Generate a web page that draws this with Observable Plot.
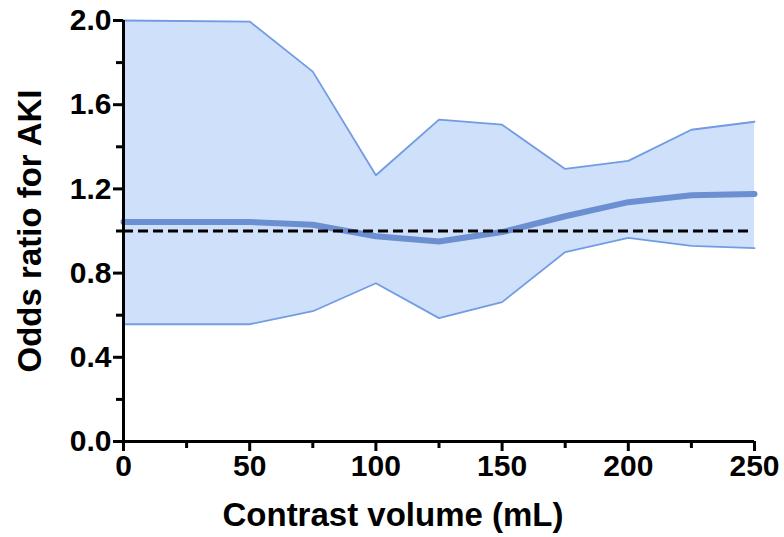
<!DOCTYPE html>
<html>
<head>
<meta charset="utf-8">
<script src="https://cdn.jsdelivr.net/npm/d3@7"></script>
<script src="https://cdn.jsdelivr.net/npm/@observablehq/plot@0.6"></script>
<style>
  html, body { margin: 0; padding: 0; background: #fff; }
  #chart svg { display: block; }
</style>
</head>
<body>
<div id="chart"></div>
<script>
// Data
const volume = [0, 50, 75, 100, 125, 150, 175, 200, 225, 250];
const oddsRatio = [1.043, 1.043, 1.03, 0.975, 0.95, 0.995, 1.07, 1.137, 1.17, 1.176];
const lowerCI = [0.557, 0.557, 0.619, 0.752, 0.586, 0.662, 0.90, 0.967, 0.929, 0.919];
const upperCI = [2.0, 1.995, 1.757, 1.265, 1.529, 1.505, 1.295, 1.333, 1.481, 1.519];
const referenceLine = [1];
const xMajorTicks = [0, 50, 100, 150, 200, 250];
const xMinorTicks = [25, 75, 125, 175, 225];
const yMajorTicks = [0, 0.4, 0.8, 1.2, 1.6, 2.0];
const yMinorTicks = [0.2, 0.6, 1.0, 1.4, 1.8];
const xTitle = "Contrast volume (mL)";
const yTitle = "Odds ratio for AKI";

const rows = volume.map((v, i) => ({v, or: oddsRatio[i], lo: lowerCI[i], hi: upperCI[i]}));

const font = "'Liberation Sans', Arial, Helvetica, sans-serif";
const fillColor = "#cfe0fb";
const edgeColor = "#719be2";
const mainColor = "#6b8fd1";

const chart = Plot.plot({
  width: 784,
  height: 537,
  marginLeft: 123,
  marginRight: 30,
  marginTop: 20,
  marginBottom: 96,
  style: {fontFamily: font, background: "#fff", color: "#000"},
  x: {domain: [0, 250]},
  y: {domain: [0, 2]},
  marks: [
    Plot.areaY(rows, {x: "v", y1: "lo", y2: "hi", fill: fillColor, curve: "linear"}),
    Plot.line(rows, {x: "v", y: "hi", stroke: edgeColor, strokeWidth: 1.8}),
    Plot.line(rows, {x: "v", y: "lo", stroke: edgeColor, strokeWidth: 1.8}),
    Plot.line(rows, {x: "v", y: "or", stroke: mainColor, strokeWidth: 6}),
    Plot.ruleY(referenceLine, {x1: 0, x2: 248, stroke: "#000", strokeWidth: 3, strokeDasharray: "10,5"}),
    Plot.axisX({ticks: xMajorTicks, tickSize: 10, tickPadding: 3, strokeWidth: 3, fontSize: 30, fontWeight: "bold", label: null, tickFormat: d3.format("d")}),
    Plot.axisX({ticks: xMinorTicks, tickSize: 7, strokeWidth: 3, label: null, tickFormat: () => ""}),
    Plot.axisY({ticks: yMajorTicks, tickSize: 10, tickPadding: 2, strokeWidth: 3, fontSize: 30, fontWeight: "bold", label: null, tickFormat: d3.format(".1f")}),
    Plot.axisY({ticks: yMinorTicks, tickSize: 7, strokeWidth: 3, label: null, tickFormat: () => ""}),
    Plot.ruleX([0], {y1: 0, y2: 2, stroke: "#000", strokeWidth: 3}),
    Plot.ruleY([0], {x1: 0, x2: 250, stroke: "#000", strokeWidth: 3}),
    Plot.text([xTitle], {frameAnchor: "bottom", dy: 74, dx: -46, fontSize: 33, fontWeight: "bold", textAnchor: "middle", lineAnchor: "middle", fill: "#000"}),
    Plot.text([yTitle], {frameAnchor: "left", dx: -93, rotate: -90, fontSize: 33, fontWeight: "bold", textAnchor: "middle", lineAnchor: "middle", fill: "#000"})
  ]
});
document.getElementById("chart").appendChild(chart);
</script>
</body>
</html>
